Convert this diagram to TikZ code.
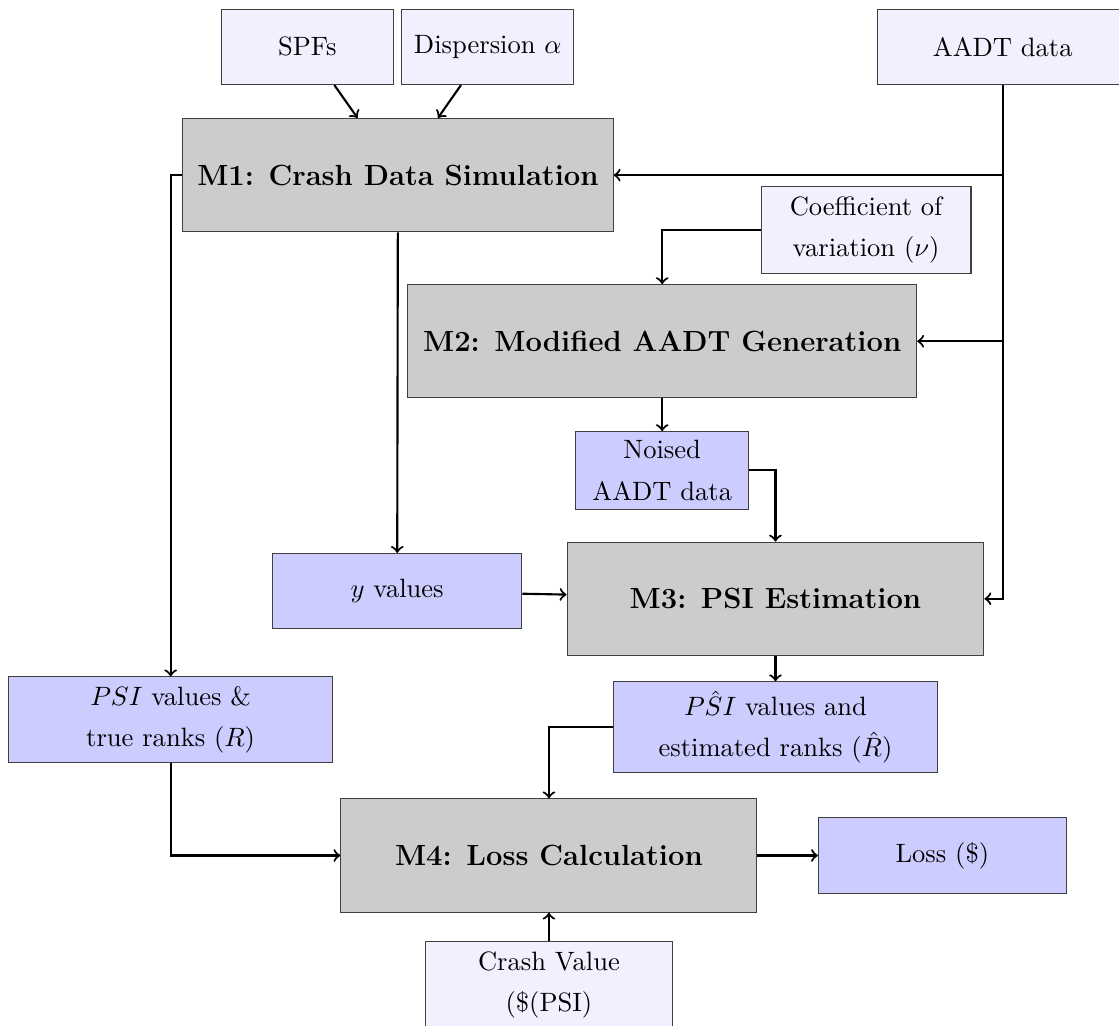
\documentclass[tikz,border=0pt]{standalone}
\usetikzlibrary{arrows}

\begin{document}
\begin{tikzpicture}[
    input/.style={draw=black!75, fill=blue!6, align=center, minimum height=1cm,
                  font=\fontsize{10pt}{15.5pt}\selectfont},
    output/.style={draw=black!75, fill=blue!20, align=center, minimum height=1cm,
                   font=\fontsize{10pt}{15.5pt}\selectfont},
    module/.style={draw=black!75, fill=gray!40, minimum height=1.5cm,
                   font=\fontsize{11pt}{13.6pt}\selectfont\bfseries},
    link/.style={->, thick}
]
    \useasboundingbox (0,0) rectangle (14.82,-13.58);
    \clip (0,0) rectangle (14.82,-13.58);

    % inputs
    \node[input, minimum width=2.28cm] (SPF) at (4.07,-0.62) {SPFs};
    \node[input, minimum width=2.28cm] (Disp) at (6.46,-0.62) {Dispersion $\alpha$};
    \node[input, minimum width=3.31cm] (AADT) at (13.28,-0.62) {AADT data};
    \node[input, minimum width=2.78cm, minimum height=1.15cm] (CoV) at (11.47,-3.05) {Coefficient of\\variation ($\nu$)};
    \node[input, minimum width=3.28cm, minimum height=1.15cm] (CVal) at (7.27,-13.05) {Crash Value\\(\$(PSI)};

    % modules
    \node[module, minimum width=5.70cm] (M1) at (5.27,-2.32) {M1: Crash Data Simulation};
    \node[module, minimum width=6.74cm] (M2) at (8.77,-4.52) {M2: Modified AADT Generation};
    \node[module, minimum width=5.52cm] (M3) at (10.27,-7.93) {M3: PSI Estimation};
    \node[module, minimum width=5.51cm] (M4) at (7.27,-11.33) {M4: Loss Calculation};

    % outputs
    \node[output, minimum width=2.29cm, minimum height=1.02cm] (Noised) at (8.77,-6.23) {Noised\\AADT data};
    \node[output, minimum width=3.30cm] (Yval) at (5.26,-7.83) {$y$ values};
    \node[output, minimum width=4.29cm, minimum height=1.13cm] (PSI) at (2.26,-9.53) {$PSI$ values \&\\true ranks ($R$)};
    \node[output, minimum width=4.28cm, minimum height=1.2cm] (PSIhat) at (10.27,-9.63) {$P\hat{S}I$ values and\\estimated ranks ($\hat{R}$)};
    \node[output, minimum width=3.28cm] (Loss) at (12.48,-11.33) {Loss (\$)};

    \draw[link] (SPF) -- (M1);
    \draw[link] (Disp) -- (M1);
    \draw[link] (AADT) |- (M1);
    \draw[link] (AADT) |- (M2);
    \draw[link] (AADT) |- (M3);
    \draw[link] (CoV) -| (M2);
    \draw[link] (M2) -- (Noised);
    \draw[link] (Noised) -| (M3);
    \draw[link] (M1) -- (Yval);
    \draw[link] (Yval) -- (M3);
    \draw[link] (M1) -| (PSI);
    \draw[link] (M3) -- (PSIhat);
    \draw[link] (PSI) |- (M4);
    \draw[link] (PSIhat) -| (M4);
    \draw[link] (CVal) -- (M4);
    \draw[link] (M4) -- (Loss);
\end{tikzpicture}
\end{document}
